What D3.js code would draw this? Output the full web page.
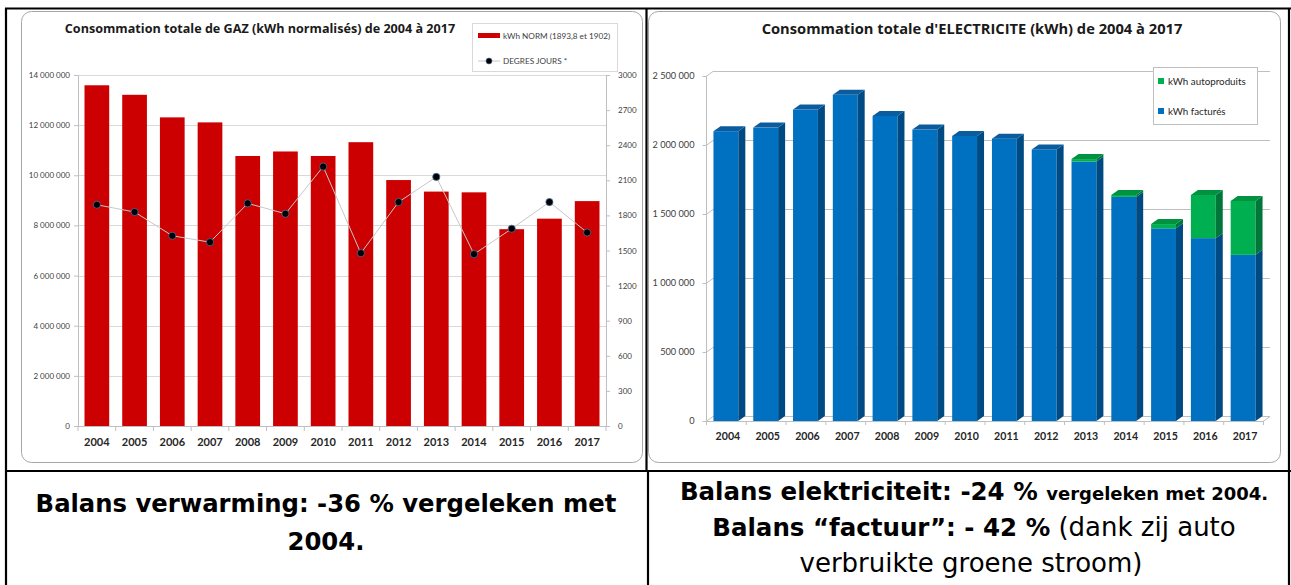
<!DOCTYPE html>
<html>
<head>
<meta charset="utf-8">
<script src="https://cdn.jsdelivr.net/npm/d3@7"></script>
<style>
body{margin:0;background:#fff;}
svg{display:block;}
</style>
</head>
<body>
<div id="chart"></div>
<script>
// ---- data ----
var years = [2004,2005,2006,2007,2008,2009,2010,2011,2012,2013,2014,2015,2016,2017];
var gazKwh = [13590000,13210000,12310000,12110000,10770000,10950000,10770000,11320000,9810000,9350000,9320000,7850000,8270000,8970000];
var degresJours = [1891,1829,1626,1571,1903,1814,2217,1477,1914,2129,1469,1686,1914,1654];
var elecFactures = [2100000,2126000,2257000,2364000,2211000,2112000,2066000,2046000,1968000,1880000,1624000,1396000,1325000,1204000];
var elecAutoproduits = [0,0,0,0,0,0,0,0,0,18000,14000,31000,313000,391000];
var gazTicks = [0,2000000,4000000,6000000,8000000,10000000,12000000,14000000];
var djTicks = [0,300,600,900,1200,1500,1800,2100,2400,2700,3000];
var elecTicks = [0,500000,1000000,1500000,2000000,2500000];

var W = 1291, H = 585;
var chartFont = "Lato, 'Open Sans', sans-serif";
var titleFont = "'Open Sans', Lato, sans-serif";
var noteFont = "'DejaVu Sans', sans-serif";
var fmt = function(v){ return d3.format(",")(v).replace(/,/g," "); };

var svg = d3.select("#chart").append("svg")
    .attr("width",W).attr("height",H);

// ---- table borders ----
var border = svg.append("g").attr("stroke","#000").attr("stroke-width",2.2);
border.append("line").attr("x1",5).attr("x2",W).attr("y1",8.5).attr("y2",8.5);
border.append("line").attr("x1",6).attr("x2",6).attr("y1",8).attr("y2",H);
border.append("line").attr("x1",1289).attr("x2",1289).attr("y1",8).attr("y2",H);
border.append("line").attr("x1",5).attr("x2",W).attr("y1",471).attr("y2",471);
border.append("line").attr("x1",646.5).attr("x2",646.5).attr("y1",8).attr("y2",471);
border.append("line").attr("x1",648).attr("x2",648).attr("y1",471).attr("y2",H);

// ---- chart frames ----
svg.append("rect").attr("x",21.5).attr("y",11.5).attr("width",621).attr("height",451)
    .attr("rx",10).attr("fill","#fff").attr("stroke","#a6a6a6");
svg.append("rect").attr("x",648.5).attr("y",11.5).attr("width",632).attr("height",451)
    .attr("rx",10).attr("fill","#fff").attr("stroke","#a6a6a6");

// =========== GAZ chart ===========
var gaz = svg.append("g");
var xG = d3.scaleBand().domain(years).range([78,606]).paddingInner(0.345).paddingOuter(0.1725);
var yG = d3.scaleLinear().domain([0,14000000]).range([426,75]);
var yD = d3.scaleLinear().domain([0,3000]).range([426,75]);

gaz.append("text")
    .attr("x",260).attr("y",33).attr("text-anchor","middle")
    .attr("font-family",titleFont).attr("font-weight","bold").attr("font-size",12.6)
    .attr("fill","#1a1a1a")
    .text("Consommation totale de GAZ (kWh normalisés) de 2004 à 2017");

// gridlines
gaz.append("g").selectAll("line").data(gazTicks.slice(1)).enter().append("line")
    .attr("x1",78).attr("x2",606)
    .attr("y1",d=>Math.round(yG(d))+0.5).attr("y2",d=>Math.round(yG(d))+0.5)
    .attr("stroke","#d9d9d9");

var axL = gaz.append("g").attr("transform","translate(78,0)")
    .call(d3.axisLeft(yG).tickValues(gazTicks).tickSize(4).tickPadding(4).tickFormat(fmt));
var axR = gaz.append("g").attr("transform","translate(606,0)")
    .call(d3.axisRight(yD).tickValues(djTicks).tickSize(4).tickPadding(8).tickFormat(d3.format("d")));
[axL,axR].forEach(function(a){
    a.select(".domain").attr("stroke","#bfbfbf");
    a.selectAll(".tick line").attr("stroke","#bfbfbf");
    a.selectAll("text").attr("font-family",chartFont).attr("font-size",8).attr("fill","#404040");
});

// bars
gaz.append("g").selectAll("rect").data(years).enter().append("rect")
    .attr("x",d=>xG(d)).attr("width",xG.bandwidth())
    .attr("y",(d,i)=>yG(gazKwh[i])).attr("height",(d,i)=>yG(0)-yG(gazKwh[i]))
    .attr("fill","#cc0000");

// x axis
gaz.append("line").attr("x1",78).attr("x2",606).attr("y1",426.5).attr("y2",426.5).attr("stroke","#bfbfbf");
var gStep = xG.step();
gaz.append("g").selectAll("line").data(d3.range(years.length+1)).enter().append("line")
    .attr("x1",d=>78+d*gStep).attr("x2",d=>78+d*gStep)
    .attr("y1",426).attr("y2",431).attr("stroke","#bfbfbf");
gaz.append("g").selectAll("text").data(years).enter().append("text")
    .attr("x",d=>xG(d)+xG.bandwidth()/2).attr("y",446)
    .attr("text-anchor","middle").attr("font-family",chartFont).attr("font-weight","bold")
    .attr("font-size",11).attr("fill","#262626").text(d=>d);

// degres jours line
var line = d3.line()
    .x((d,i)=>xG(years[i])+xG.bandwidth()/2)
    .y(d=>yD(d));
gaz.append("path").datum(degresJours).attr("d",line)
    .attr("fill","none").attr("stroke","#c8c8c8").attr("stroke-width",1);
gaz.append("g").selectAll("circle").data(degresJours).enter().append("circle")
    .attr("cx",(d,i)=>xG(years[i])+xG.bandwidth()/2).attr("cy",d=>yD(d))
    .attr("r",3.6).attr("fill","#000").attr("stroke","#4f6f9f").attr("stroke-width",0.8);

// legend
var lg = gaz.append("g");
lg.append("rect").attr("x",472.5).attr("y",23.5).attr("width",145).attr("height",48)
    .attr("fill","#fff").attr("stroke","#d9d9d9");
lg.append("rect").attr("x",478).attr("y",33).attr("width",22).attr("height",5).attr("fill","#cc0000");
lg.append("line").attr("x1",478).attr("x2",500).attr("y1",61).attr("y2",61).attr("stroke","#c8c8c8");
lg.append("circle").attr("cx",489).attr("cy",61).attr("r",3).attr("fill","#000").attr("stroke","#4f6f9f").attr("stroke-width",0.6);
lg.append("text").attr("x",503).attr("y",38.5).attr("font-family",chartFont).attr("font-size",8.2)
    .attr("fill","#404040").text("kWh NORM (1893,8 et 1902)");
lg.append("text").attr("x",503).attr("y",63.5).attr("font-family",chartFont).attr("font-size",8.2)
    .attr("fill","#404040").text("DEGRES JOURS *");

// =========== ELECTRICITE chart (3D columns) ===========
var el = svg.append("g");
var dx = 7, dy = -5;
var xE = d3.scaleBand().domain(years).range([706,1263]).paddingInner(0.375).paddingOuter(0.1875);
var yE = d3.scaleLinear().domain([0,2500000]).range([421,76]);
var x0 = 706, x1 = 1263;

el.append("text")
    .attr("x",972).attr("y",34).attr("text-anchor","middle")
    .attr("font-family",titleFont).attr("font-weight","bold").attr("font-size",14.7)
    .attr("fill","#1a1a1a")
    .text("Consommation totale d'ELECTRICITE (kWh) de 2004 à 2017");

// back wall gridlines + left wall diagonals
var grid = el.append("g").attr("fill","none").attr("stroke","#bfbfbf");
elecTicks.forEach(function(t){
    var y = Math.round(yE(t))+0.5;
    grid.append("path").attr("d","M"+x0+","+y+"L"+(x0+dx)+","+(y+dy)+"L"+(x1+dx)+","+(y+dy));
});
// floor front edge and right edge
grid.append("path").attr("d","M"+x0+","+(yE(0)+0.5)+"L"+x1+","+(yE(0)+0.5)+"L"+(x1+dx)+","+(yE(0)+0.5+dy));
// left wall line
grid.append("line").attr("x1",x0+0.5).attr("x2",x0+0.5).attr("y1",yE(2500000)).attr("y2",yE(0)+1);

// left axis ticks + labels
var axE = el.append("g").attr("transform","translate("+(x0+0.5)+",0)")
    .call(d3.axisLeft(yE).tickValues(elecTicks).tickSize(4).tickPadding(8).tickFormat(fmt));
axE.select(".domain").remove();
axE.selectAll(".tick line").attr("stroke","#bfbfbf");
axE.selectAll("text").attr("font-family",chartFont).attr("font-size",9.2).attr("fill","#404040");

// category ticks under the floor
var eStep = xE.step();
el.append("g").selectAll("line").data(d3.range(years.length+1)).enter().append("line")
    .attr("x1",d=>x0+d*eStep+0.5).attr("x2",d=>x0+d*eStep+0.5)
    .attr("y1",yE(0)).attr("y2",yE(0)+4).attr("stroke","#bfbfbf");

// columns
var blue = {front:"#0070c0", side:"#004a83", top:"#0b5c9e"};
var green = {front:"#00b050", side:"#00773a", top:"#00933f"};
function block(g, xa, w, v0, v1, c, withTop){
    var yt = yE(v1), yb = yE(v0);
    g.append("rect").attr("x",xa).attr("y",yt).attr("width",w).attr("height",yb-yt).attr("fill",c.front);
    g.append("path").attr("fill",c.side)
        .attr("d","M"+(xa+w)+","+yb+"L"+(xa+w)+","+yt+"L"+(xa+w+dx)+","+(yt+dy)+"L"+(xa+w+dx)+","+(yb+dy)+"Z");
    if(withTop){
        g.append("path").attr("fill",c.top)
            .attr("d","M"+xa+","+yt+"L"+(xa+dx)+","+(yt+dy)+"L"+(xa+w+dx)+","+(yt+dy)+"L"+(xa+w)+","+yt+"Z");
    }
}
var bars = el.append("g");
years.forEach(function(yr,i){
    var g = bars.append("g");
    var f = elecFactures[i], a = elecAutoproduits[i];
    block(g, xE(yr), xE.bandwidth(), 0, f, blue, a === 0);
    if(a > 0) block(g, xE(yr), xE.bandwidth(), f, f+a, green, true);
});

el.append("g").selectAll("text").data(years).enter().append("text")
    .attr("x",d=>xE(d)+xE.bandwidth()/2+2).attr("y",440)
    .attr("text-anchor","middle").attr("font-family",chartFont).attr("font-weight","bold")
    .attr("font-size",10.6).attr("fill","#262626").text(d=>d);

// legend
var le = el.append("g");
le.append("rect").attr("x",1153.5).attr("y",67.5).attr("width",104).attr("height",57)
    .attr("fill","#fff").attr("stroke","#bfbfbf");
le.append("rect").attr("x",1158).attr("y",78).attr("width",6).attr("height",6).attr("fill",green.front);
le.append("rect").attr("x",1158).attr("y",108).attr("width",6).attr("height",6).attr("fill",blue.front);
le.append("text").attr("x",1168).attr("y",84.5).attr("font-family",chartFont).attr("font-size",9.8)
    .attr("fill","#262626").text("kWh autoproduits");
le.append("text").attr("x",1168).attr("y",114.5).attr("font-family",chartFont).attr("font-size",9.8)
    .attr("fill","#262626").text("kWh facturés");

// =========== notes under the charts ===========
var notes = svg.append("g").attr("font-family",noteFont).attr("fill","#000").attr("text-anchor","middle");
notes.append("text").attr("x",326).attr("y",512).attr("font-weight","bold").attr("font-size",24.3)
    .text("Balans verwarming: -36 % vergeleken met");
notes.append("text").attr("x",326).attr("y",550).attr("font-weight","bold").attr("font-size",24.3)
    .text("2004.");

var t1 = notes.append("text").attr("x",974).attr("y",500).attr("font-weight","bold");
t1.append("tspan").attr("font-size",24.5).text("Balans elektriciteit: -24 % ");
t1.append("tspan").attr("font-size",18).text("vergeleken met 2004.");
var t2 = notes.append("text").attr("x",974).attr("y",536);
t2.append("tspan").attr("font-weight","bold").attr("font-size",24.5).text("Balans “factuur”: - 42 %");
t2.append("tspan").attr("font-size",26).text(" (dank zij auto");
notes.append("text").attr("x",971).attr("y",572).attr("font-size",26)
    .text("verbruikte groene stroom)");
</script>
</body>
</html>
